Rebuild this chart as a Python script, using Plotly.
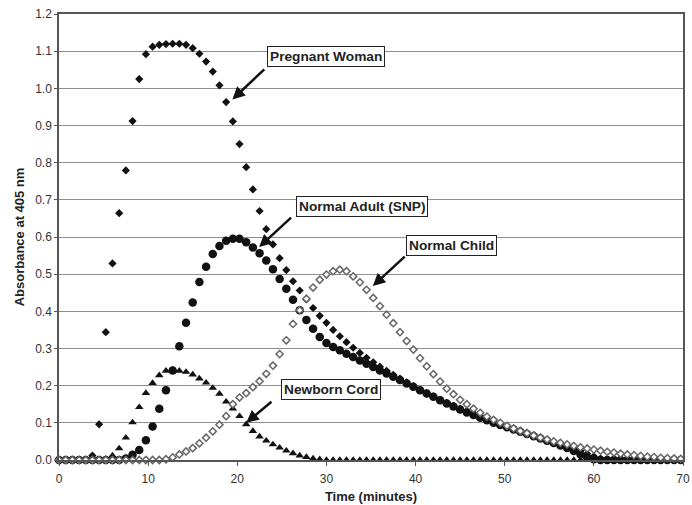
import plotly.graph_objects as go

# Sampling times: one reading every 0.75 min (45 s)
time_min = [round(0.75 * i, 2) for i in range(94)]

pregnant_woman = [
    0, 0, 0, 0, 0, 0.012, 0.096, 0.344, 0.529, 0.664,
    0.779, 0.912, 1.025, 1.092, 1.112, 1.117, 1.119, 1.120, 1.120, 1.117,
    1.108, 1.093, 1.072, 1.045, 1.008, 0.963, 0.911, 0.850, 0.788, 0.728,
    0.670, 0.621, 0.580, 0.543, 0.511, 0.481, 0.456, 0.432, 0.409, 0.388,
    0.369, 0.350, 0.333, 0.317, 0.302, 0.288, 0.275, 0.263, 0.251, 0.240,
    0.229, 0.219, 0.209, 0.199, 0.189, 0.180, 0.171, 0.162, 0.154, 0.146,
    0.138, 0.131, 0.124, 0.117, 0.110, 0.103, 0.097, 0.091, 0.085, 0.079,
    0.073, 0.067, 0.061, 0.055, 0.049, 0.044, 0.038, 0.032, 0.025, 0.017,
    0.010, 0.004, 0, 0, 0, 0, 0, 0, 0, 0,
    0, 0, 0, 0,
]

normal_adult = [
    0, 0, 0, 0, 0, 0, 0, 0, 0, 0,
    0.004, 0.014, 0.027, 0.053, 0.090, 0.138, 0.188, 0.241, 0.306, 0.369,
    0.424, 0.479, 0.520, 0.554, 0.576, 0.590, 0.595, 0.595, 0.586, 0.572,
    0.556, 0.537, 0.513, 0.487, 0.461, 0.431, 0.403, 0.377, 0.353, 0.331,
    0.315, 0.304, 0.295, 0.286, 0.277, 0.268, 0.259, 0.250, 0.241, 0.233,
    0.224, 0.215, 0.206, 0.197, 0.188, 0.179, 0.170, 0.161, 0.152, 0.144,
    0.136, 0.128, 0.121, 0.114, 0.107, 0.100, 0.094, 0.088, 0.082, 0.076,
    0.070, 0.064, 0.058, 0.052, 0.046, 0.039, 0.032, 0.024, 0.015, 0.007,
    0.002, 0, 0, 0, 0, 0, 0, 0, 0, 0,
    0, 0, 0, 0,
]

newborn_cord = [
    0, 0, 0, 0, 0, 0, 0, 0.003, 0.012, 0.031,
    0.060, 0.101, 0.142, 0.180, 0.207, 0.228, 0.240, 0.243, 0.240, 0.237,
    0.230, 0.219, 0.208, 0.194, 0.178, 0.157, 0.138, 0.118, 0.096, 0.078,
    0.063, 0.052, 0.042, 0.033, 0.025, 0.018, 0.012, 0.008, 0.004, 0.002,
    0, 0, 0, 0, 0, 0, 0, 0, 0, 0,
    0, 0, 0, 0, 0, 0, 0, 0, 0, 0,
    0, 0, 0, 0, 0, 0, 0, 0, 0, 0,
    0, 0, 0, 0, 0, 0, 0, 0, 0, 0,
    0, 0, 0, 0, 0, 0, 0, 0, 0, 0,
    0, 0, 0, 0,
]

normal_child = [
    0, 0, 0, 0, 0, 0, 0, 0, 0, 0,
    0, 0, 0, 0, 0, 0, 0.002, 0.007, 0.015, 0.023,
    0.032, 0.045, 0.060, 0.077, 0.095, 0.118, 0.150, 0.168, 0.180, 0.196,
    0.212, 0.232, 0.254, 0.285, 0.322, 0.366, 0.403, 0.434, 0.464, 0.485,
    0.499, 0.508, 0.512, 0.508, 0.494, 0.478, 0.458, 0.436, 0.414, 0.391,
    0.368, 0.344, 0.320, 0.297, 0.274, 0.252, 0.231, 0.211, 0.192, 0.177,
    0.162, 0.150, 0.138, 0.127, 0.117, 0.108, 0.100, 0.092, 0.085, 0.078,
    0.072, 0.066, 0.060, 0.055, 0.050, 0.046, 0.042, 0.038, 0.034, 0.031,
    0.028, 0.025, 0.022, 0.020, 0.017, 0.015, 0.013, 0.011, 0.009, 0.008,
    0.006, 0.005, 0.004, 0.003,
]

y_ticks = [round(0.1 * k, 1) for k in range(13)]
x_ticks = list(range(0, 71, 10))

INK = "#111111"
FONT = "Liberation Sans, Arial, sans-serif"

fig = go.Figure()

fig.add_trace(go.Scatter(
    x=time_min, y=pregnant_woman, mode="markers", name="Pregnant Woman",
    marker=dict(symbol="diamond", size=6.3, color=INK, line=dict(width=0)),
    cliponaxis=False,
))
fig.add_trace(go.Scatter(
    x=time_min, y=newborn_cord, mode="markers", name="Newborn Cord",
    marker=dict(symbol="triangle-up", size=7.5, color=INK, line=dict(width=0)),
    cliponaxis=False,
))
fig.add_trace(go.Scatter(
    x=time_min, y=normal_adult, mode="markers", name="Normal Adult (SNP)",
    marker=dict(symbol="circle", size=8.5, color=INK, line=dict(width=0)),
    cliponaxis=False,
))
fig.add_trace(go.Scatter(
    x=time_min, y=normal_child, mode="markers", name="Normal Child",
    marker=dict(symbol="diamond", size=5.5, color="white",
                line=dict(width=1.5, color="#666666")),
    cliponaxis=False,
))

# Callout labels (boxes) and their pointer arrows
labels = [
    # text, box centre (x, y), arrow tail (x, y), arrow head (x, y)
    ("Pregnant Woman", (29.93, 1.086), (23.2, 1.055), (19.45, 0.970)),
    ("Normal Adult (SNP)", (33.96, 0.682), (26.2, 0.656), (22.45, 0.573)),
    ("Normal Child", (44.05, 0.578), (38.95, 0.551), (35.2, 0.468)),
    ("Newborn Cord", (30.5, 0.1895), (24.0, 0.160), (21.0, 0.100)),
]
for text, (bx, by), (tx, ty), (hx, hy) in labels:
    fig.add_annotation(
        x=hx, y=hy, ax=tx, ay=ty, xref="x", yref="y", axref="x", ayref="y",
        text="", showarrow=True, arrowhead=2, arrowsize=1, arrowwidth=2.5,
        arrowcolor="#111111", standoff=0, startstandoff=0,
    )
    fig.add_annotation(
        x=bx, y=by, xref="x", yref="y", text="<b>%s</b>" % text,
        showarrow=False, bgcolor="white", bordercolor="#222222",
        borderwidth=1, borderpad=2,
        font=dict(family=FONT, size=13.7, color="#222222"),
    )

fig.update_layout(
    width=692, height=505,
    margin=dict(l=59, r=9, t=14, b=45),
    plot_bgcolor="white", paper_bgcolor="white",
    showlegend=False,
    font=dict(family=FONT, size=12, color="#333333"),
)
fig.update_xaxes(
    range=[0, 70], tickvals=x_ticks, ticktext=[str(v) for v in x_ticks],
    automargin=False,
    showgrid=False, zeroline=False,
    showline=True, linecolor="#555555", linewidth=1.5, mirror=True,
    ticks="outside", ticklen=4, tickcolor="#555555", ticklabelstandoff=3,
    tickfont=dict(family=FONT, size=12, color="#333333"),
    title=dict(text="<b>Time (minutes)</b>", standoff=7,
               font=dict(family=FONT, size=13, color="#222222")),
)
fig.update_yaxes(
    range=[0, 1.2], tickvals=y_ticks, ticktext=["%.1f" % v for v in y_ticks],
    automargin=False,
    showgrid=True, gridcolor="#8f8f8f", gridwidth=1, zeroline=False,
    showline=True, linecolor="#555555", linewidth=1.5, mirror=True,
    ticks="outside", ticklen=3, tickcolor="#555555",
    tickfont=dict(family=FONT, size=12, color="#333333"),
    title=dict(text="<b>Absorbance at 405 nm</b>", standoff=8,
               font=dict(family=FONT, size=13, color="#222222")),
)

fig.write_html("out.html")
